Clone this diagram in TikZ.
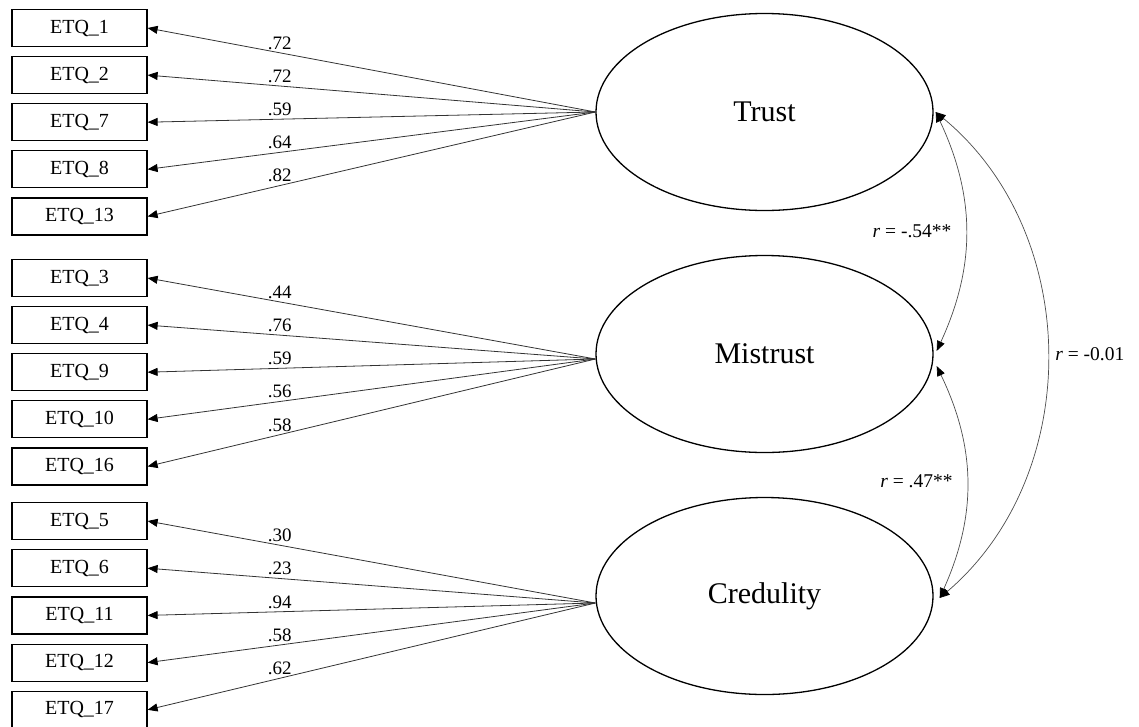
\documentclass[tikz,border=0pt]{standalone}
\usepackage{fontspec}
\setmainfont{Liberation Serif}
\usetikzlibrary{shapes.geometric,arrows.meta}
\begin{document}
\begin{tikzpicture}[x=1pt,y=-1pt,
  obs/.style={draw, line width=1.2pt, minimum width=135pt, minimum height=37pt, inner sep=0pt, font=\fontsize{20}{24}\selectfont},
  lat/.style={draw, ellipse, line width=1.3pt, minimum width=337pt, minimum height=197pt, inner sep=0pt, font=\fontsize{30}{36}\selectfont},
  tip/.tip={Triangle[length=10pt,width=8pt,color=black]},
  load/.style={draw=black!80, line width=0.8pt, -tip},
  lab/.style={font=\fontsize{19}{22}\selectfont, inner sep=3pt, above, pos=0.705},
  cov/.style={draw=black!70, line width=0.7pt, tip-tip},
  rlab/.style={font=\fontsize{19.5}{22}\selectfont, inner sep=0pt}
]
\useasboundingbox (0,0) rectangle (1139,726);

% latent variables
\node[lat] (tru) at (764.5,112) {Trust};
\node[lat] (mis) at (764.5,354) {Mistrust};
\node[lat] (cre) at (764.5,596) {Credulity};

\coordinate (tw) at (tru.west);
\coordinate (mw) at ([yshift=-5pt]mis.west);
\coordinate (cw) at ([yshift=-7pt]cre.west);

% observed indicators
\foreach \n/\y in {1/28, 2/75.1, 7/122.2, 8/169.3, 13/216.4}
  \node[obs] (e\n) at (79.5,\y) {ETQ\_\n};
\foreach \n/\y in {3/278, 4/325.1, 9/372.2, 10/419.3, 16/466.4}
  \node[obs] (e\n) at (79.5,\y) {ETQ\_\n};
\foreach \n/\y in {5/521, 6/568.2, 11/615.4, 12/662.6, 17/709.8}
  \node[obs] (e\n) at (79.5,\y) {ETQ\_\n};

% loadings
\foreach \n/\v in {1/.72, 2/.72, 7/.59, 8/.64, 13/.82}
  \draw[load] (tw) -- node[lab] {\v} (e\n.east);
\foreach \n/\v in {3/.44, 4/.76, 9/.59, 10/.56, 16/.58}
  \draw[load] (mw) -- node[lab] {\v} (e\n.east);
\foreach \n/\v in {5/.30, 6/.23, 11/.94, 12/.58, 17/.62}
  \draw[load] (cw) -- node[lab] {\v} (e\n.east);

% correlations
\coordinate (te) at ([xshift=2pt]tru.east);
\coordinate (me1) at ([xshift=3pt,yshift=3pt]mis.east);
\coordinate (me2) at ([xshift=3pt,yshift=-12pt]mis.east);
\coordinate (ce) at ([xshift=6pt,yshift=-2pt]cre.east);

\draw[cov] (te) to[bend left=25] node[rlab, left=14pt] {\textit{r} = -.54**} (me1);
\draw[cov] (me2) to[bend left=25] node[rlab, left=14pt] {\textit{r} = .47**} (ce);
\draw[cov] (te) to[bend left=50] node[rlab, right=8pt] {\textit{r} = -0.01} (ce);
\end{tikzpicture}
\end{document}
